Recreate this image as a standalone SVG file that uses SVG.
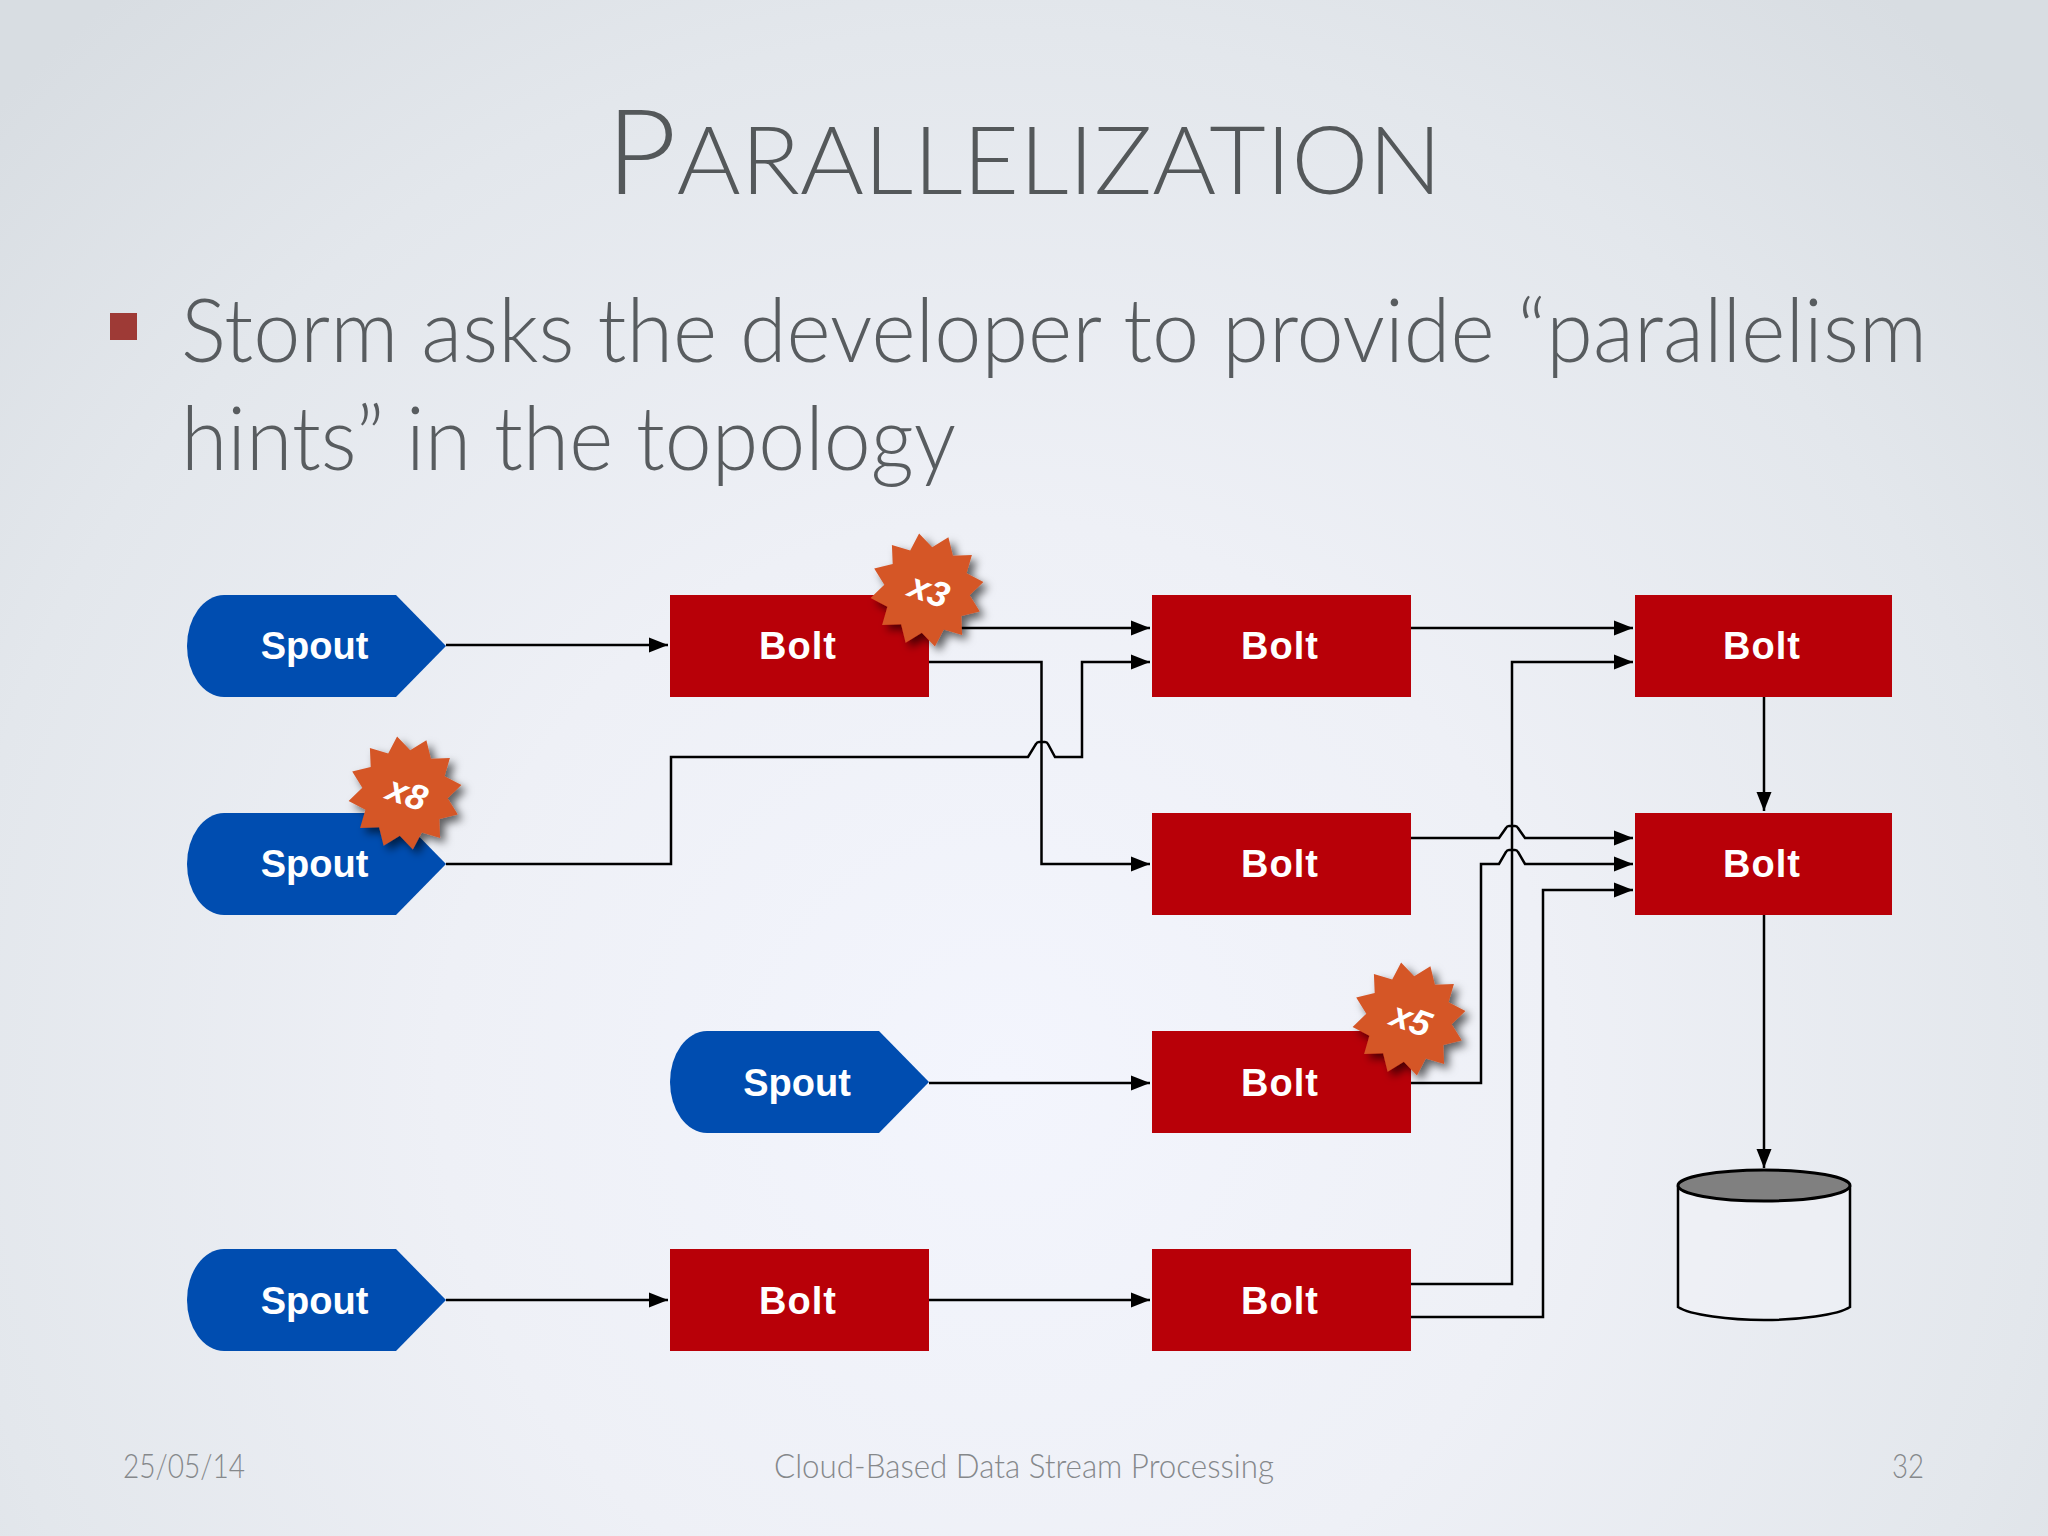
<svg xmlns="http://www.w3.org/2000/svg" xmlns:xlink="http://www.w3.org/1999/xlink" width="2048" height="1536" viewBox="0 0 2048 1536">
<defs>
<radialGradient id="bg" gradientUnits="userSpaceOnUse" cx="1000" cy="1080" r="1400">
<stop offset="0" stop-color="#f3f5fd"/><stop offset="0.4" stop-color="#eef0f6"/><stop offset="0.75" stop-color="#e3e7ec"/><stop offset="1" stop-color="#d8dde2"/>
</radialGradient>
<filter id="sh" x="-30%" y="-30%" width="170%" height="170%"><feDropShadow dx="5" dy="5" stdDeviation="4" flood-color="#000" flood-opacity="0.6"/></filter>
<marker id="ah" markerUnits="userSpaceOnUse" markerWidth="20" markerHeight="16" refX="19" refY="8" orient="auto"><path d="M0,0.5 L19,8 L0,15.500z" fill="#000"/></marker>
<path id="spout" d="M224,0 H396 L446,51 L396,102 H224 A37,51 0 0 1 224,0z"/>
<polygon id="star" points="-7.900,-56.400 5.200,-42.700 21.400,-52.800 25.900,-34.300 44.900,-35.100 39.600,-16.800 56.400,-7.900 42.700,5.200 52.800,21.400 34.300,25.900 35.100,44.900 16.800,39.600 7.900,56.400 -5.200,42.700 -21.400,52.800 -25.900,34.300 -44.900,35.100 -39.600,16.800 -56.400,7.900 -42.700,-5.200 -52.800,-21.400 -34.300,-25.900 -35.100,-44.900 -16.800,-39.600"/>
</defs>
<style>
.sp{fill:#004db0}
.bo{fill:#b80008}
.lb{font-family:"Liberation Sans",Arial,sans-serif;font-weight:700;font-size:38px;fill:#fff;text-anchor:middle}
.bl{letter-spacing:1px}
.st{fill:#d55627;filter:url(#sh)}
.sx{font-family:"Liberation Sans",Arial,sans-serif;font-weight:700;font-style:italic;font-size:36px;fill:#fff;text-anchor:middle}
.c{fill:none;stroke:#000;stroke-width:2.500}
.a{marker-end:url(#ah)}
.body{font-family:Lato,"Noto Sans",sans-serif;font-weight:300;font-size:88px;fill:#585c5f}
.title{font-family:Lato,"Noto Sans",sans-serif;font-weight:300;fill:#54585a}
.ft{font-family:Lato,"Noto Sans",sans-serif;font-weight:300;font-size:34px;fill:#85888b}
</style>
<rect width="2048" height="1536" fill="url(#bg)"/>
<text class="title" x="606" y="194" textLength="836" lengthAdjust="spacingAndGlyphs"><tspan font-size="118">P</tspan><tspan font-size="94">ARALLELIZATION</tspan></text>
<rect x="110" y="313" width="27" height="27" fill="#9e3a36"/>
<text class="body" x="181" y="362" textLength="1746" lengthAdjust="spacingAndGlyphs">Storm asks the developer to provide “parallelism</text>
<text class="body" x="181" y="470" textLength="775" lengthAdjust="spacingAndGlyphs">hints” in the topology</text>
<text class="ft" x="123" y="1478" textLength="122" lengthAdjust="spacingAndGlyphs">25/05/14</text>
<text class="ft" x="774" y="1478" textLength="500" lengthAdjust="spacingAndGlyphs">Cloud-Based Data Stream Processing</text>
<text class="ft" x="1892" y="1478" textLength="32" lengthAdjust="spacingAndGlyphs">32</text>
<g id="connectors">
<path class="c a" d="M446,645 H668"/>
<path class="c a" d="M929,628 H1150"/>
<path class="c a" d="M929,662 H1041.500 V864 H1150"/>
<path class="c a" d="M446,864 H671 V757 H1028 L1036,744 Q1037,742 1039,742 H1045 Q1047,742 1048,744 L1055,757 H1082 V662 H1150"/>
<path class="c a" d="M1411,628 H1633"/>
<path class="c a" d="M1411,1284 H1512 V662 H1633"/>
<path class="c a" d="M1411,838 H1499 L1506,828 Q1507,826 1509,826 H1515 Q1517,826 1518,828 L1525,838 H1633"/>
<path class="c a" d="M1411,1083 H1481 V864 H1499 L1506,852 Q1507,850 1509,850 H1515 Q1517,850 1518,852 L1525,864 H1633"/>
<path class="c a" d="M1411,1317 H1543 V890 H1633"/>
<path class="c a" d="M1764,696 V811"/>
<path class="c a" d="M1764,915 V1168"/>
<path class="c a" d="M446,1300 H668"/>
<path class="c a" d="M929,1300 H1150"/>
<path class="c a" d="M929,1083 H1150"/>
</g>
<g id="spout1"><use xlink:href="#spout" href="#spout" class="sp" x="0" y="595"/><text class="lb" x="314.500" y="659">Spout</text></g>
<g id="spout2"><use xlink:href="#spout" href="#spout" class="sp" x="0" y="813"/><text class="lb" x="314.500" y="877">Spout</text></g>
<g id="spout3"><use xlink:href="#spout" href="#spout" class="sp" x="483" y="1031"/><text class="lb" x="797" y="1096">Spout</text></g>
<g id="spout4"><use xlink:href="#spout" href="#spout" class="sp" x="0" y="1249"/><text class="lb" x="314.500" y="1314">Spout</text></g>
<g id="bolt1"><rect class="bo" x="670" y="595" width="259" height="102"/><text class="lb bl" x="798" y="659">Bolt</text></g>
<g id="bolt2"><rect class="bo" x="1152" y="595" width="259" height="102"/><text class="lb bl" x="1280" y="659">Bolt</text></g>
<g id="bolt3"><rect class="bo" x="1635" y="595" width="257" height="102"/><text class="lb bl" x="1762" y="659">Bolt</text></g>
<g id="bolt4"><rect class="bo" x="1152" y="813" width="259" height="102"/><text class="lb bl" x="1280" y="877">Bolt</text></g>
<g id="bolt5"><rect class="bo" x="1635" y="813" width="257" height="102"/><text class="lb bl" x="1762" y="877">Bolt</text></g>
<g id="bolt6"><rect class="bo" x="1152" y="1031" width="259" height="102"/><text class="lb bl" x="1280" y="1096">Bolt</text></g>
<g id="bolt7"><rect class="bo" x="670" y="1249" width="259" height="102"/><text class="lb bl" x="798" y="1314">Bolt</text></g>
<g id="bolt8"><rect class="bo" x="1152" y="1249" width="259" height="102"/><text class="lb bl" x="1280" y="1314">Bolt</text></g>
<g id="database">
<path d="M1678,1186 V1307 C1690,1315 1730,1320 1764,1320 S1838,1315 1850,1307 V1186" fill="#f0f1f6" fill-opacity="0.6" stroke="#000" stroke-width="2.500"/>
<ellipse cx="1764" cy="1185.500" rx="86" ry="15.500" fill="#808080" stroke="#000" stroke-width="3"/>
</g>
<g id="badge-x3"><use xlink:href="#star" href="#star" class="st" x="927" y="590"/><text class="sx" transform="translate(925 602) rotate(20)">x3</text></g>
<g id="badge-x8"><use xlink:href="#star" href="#star" class="st" x="405" y="793"/><text class="sx" transform="translate(403 805) rotate(20)">x8</text></g>
<g id="badge-x5"><use xlink:href="#star" href="#star" class="st" x="1409" y="1019"/><text class="sx" transform="translate(1407 1031) rotate(20)">x5</text></g>
</svg>
